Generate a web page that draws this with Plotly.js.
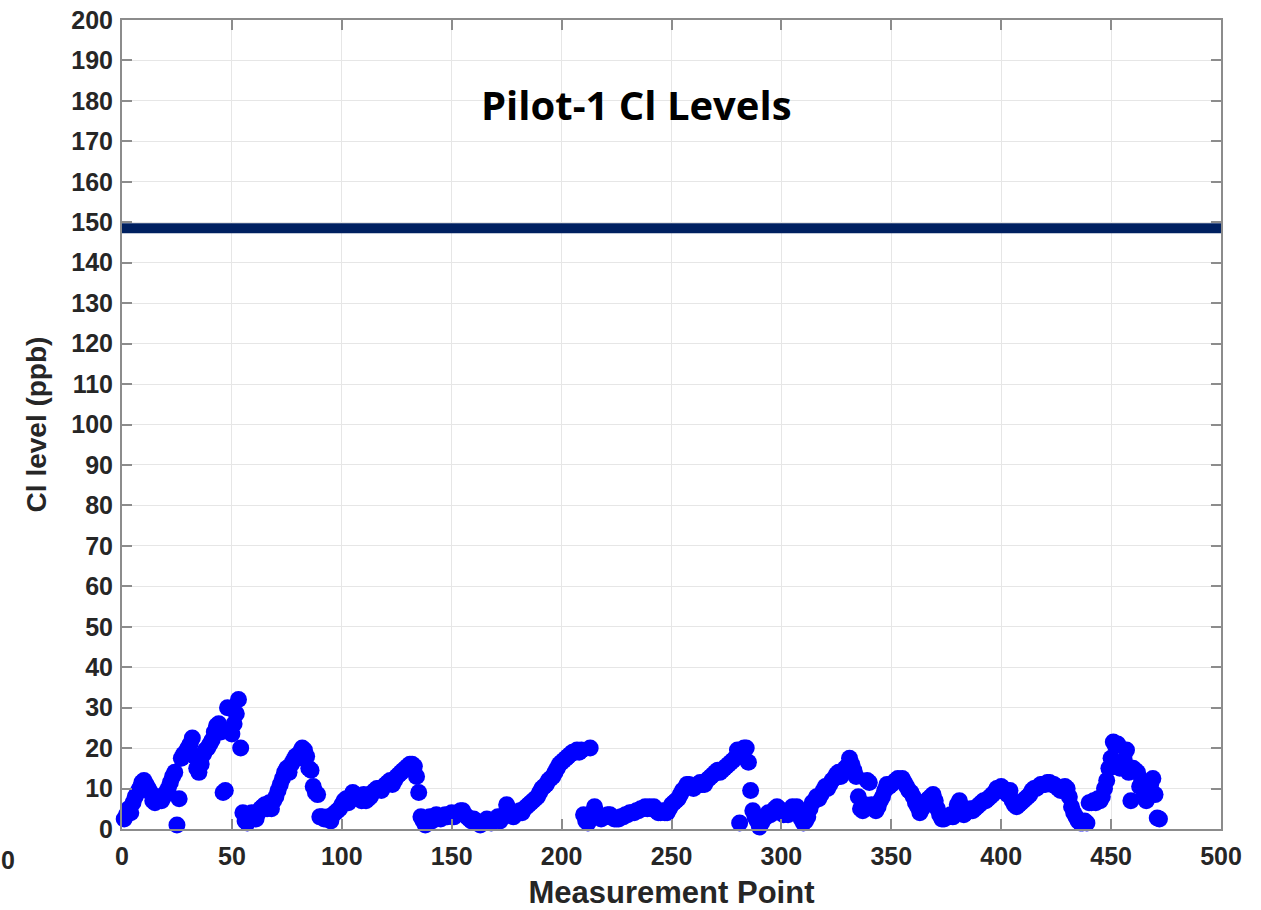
<!DOCTYPE html>
<html>
<head>
<meta charset="utf-8">
<script src="https://cdn.plot.ly/plotly-3.0.1.min.js"></script>
<style>html,body{margin:0;padding:0;background:#fff;}#chart{width:1261px;height:910px;}</style>
</head>
<body>
<div id="chart"></div>
<script>
// Cl level (ppb) for measurement points 1..472
const clLevel = [
2.5,3.5,5,4,6.5,8,9,10,11.5,12,11,10,9,7,6.5,7.5,8,7,8,9,10,11.5,13,14,1,7.5,17.5,18.5,19,20,21,22.5,18,15,14,16,18.5,19.5,20,21,22,24,25.5,26,24,9,9.5,30,24.5,23.5,26,28.5,32,20,
4,2,1.5,3,4,3,2.5,4,5,5.5,6,5,6.5,5,7,8,9.5,11,12.5,14,15,14,16,17,18,17.5,19,20,19.5,18,15,14.5,10.5,9,8.5,3,
3,2.5,2.5,3,2,3.5,4,4.5,5,6,7,7.5,6.5,8,9,8.5,8,7.5,7,8.5,7,7.5,8,9,9.5,10,10,9.5,10.5,11,11.5,12,11,12,13,13.5,14,14.5,15,15.5,16,16,15.5,13,9,
3,2,1,2.5,3,2,3,3.5,3,2.5,3,3.5,3,3.5,4,3,3.5,4,4.5,4.5,3.5,3,2.5,2,2.5,2,1.5,1,1.5,2,2.5,2,1.5,2,2.5,3,2,3,3.5,6,5,4,3,3.5,4,4.5,4,5,5.5,6,6.5,7,7.5,8,9,10,10.5,11,12,12.5,13,14,15,16,16.5,17,17.5,18,18.5,19,19,19.5,19,19.5,
3.5,2,1.5,20,3,5.5,4,3,2.5,3,3,3.5,3.5,3,2.5,2.5,2.5,3,3,3.5,3.5,4,4,4,4.5,4.5,5,5,5.5,5,5.5,5,5.5,4.5,4,4,4.5,4,4,5,6,6.5,7,7.5,8.5,9.5,10,11,11,10.5,10,10.5,11,11.5,11,11,12,12.5,13,13.5,14,14.5,14,14.5,15,15.5,16,16.5,17,17.5,19.5,1.5,19,20,20,16.5,9.5,
4.5,3,2,0.5,1.5,2.5,3,4,3.5,4,5,5.5,5,4,3.5,4,3.5,4.5,5.5,5,5.5,4,2.5,1.5,2,3,5,6.5,7,8,7.5,8.5,9.5,10.5,10,11,12,12.5,13.5,14,13,14,15,15.5,17.5,16,14.5,13,8,5,4.5,6,12,11.5,
6,5,4.5,5.5,7,8,9.5,11,10.5,11,11.5,12,12.5,12,12.5,11.5,10.5,9.5,9,8,6.5,5.5,4,5,6,7,7.5,8,8.5,7,5,3.5,2.5,2.5,3,3,3.5,3,4,6,7,4,3.5,4,4.5,5,4.5,5,5.5,6,6.5,7,7,7.5,8,8.5,9,10,10,10.5,10,9,8.5,9.5,7,6,5.5,6,6.5,7,7.5,8,8.5,9.5,10,10,10.5,11,11,11,11.5,11.5,11,11,10.5,10,9.5,10,10.5,10,8,5.5,4,3,2,1.5,1.5,2,1.5,6.5,
6.5,7,6.5,7.5,7,8,10,12,15,17.5,21.5,20.5,21,15,16.5,17,19.5,14,7,15,14.5,14,10.5,12,9,7,9,11,12.5,8.5,2.7,2.5
];
const measurementPoint = clLevel.map((v, i) => i + 1);

const limitX = [0, 500];
const limitY = [148.5, 148.5];

const xTicks = [0, 50, 100, 150, 200, 250, 300, 350, 400, 450, 500];
const yTicks = [0,10,20,30,40,50,60,70,80,90,100,110,120,130,140,150,160,170,180,190,200];

const tickFont = {family: '"Liberation Sans", Arial, sans-serif', size: 25, color: '#262626', weight: 'bold'};

const traces = [
  {
    x: limitX, y: limitY, mode: 'lines', type: 'scatter',
    line: {color: '#002060', width: 10}, cliponaxis: false, showlegend: false, hoverinfo: 'skip'
  },
  {
    x: measurementPoint, y: clLevel, mode: 'markers', type: 'scatter',
    marker: {color: '#0000ff', size: 17, line: {width: 0}}, cliponaxis: false, showlegend: false
  }
];

const axisCommon = {
  showgrid: true, gridcolor: '#e6e6e6', gridwidth: 1,
  showline: true, linecolor: '#8c8c8c', linewidth: 2, mirror: 'ticks',
  ticks: 'inside', ticklen: 10, tickwidth: 2, tickcolor: '#8c8c8c',
  zeroline: false, tickfont: tickFont
};

const layout = {
  width: 1261, height: 910,
  margin: {l: 122, r: 40, t: 20, b: 81},
  paper_bgcolor: '#ffffff', plot_bgcolor: '#ffffff',
  xaxis: Object.assign({}, axisCommon, {
    range: [0, 500], tickvals: xTicks, ticktext: xTicks.map(String),
    ticklabelstandoff: 4,
    title: {text: 'Measurement Point', font: {family: '"Liberation Sans", Arial, sans-serif', size: 31, color: '#262626', weight: 'bold'}, standoff: 13}
  }),
  yaxis: Object.assign({}, axisCommon, {
    range: [0, 200], tickvals: yTicks, ticktext: yTicks.map(String),
    ticklabelstandoff: 2,
    title: {text: 'Cl level (ppb)', font: {family: '"Liberation Sans", Arial, sans-serif', size: 28, color: '#262626', weight: 'bold'}, standoff: 16}
  }),
  annotations: [
    {
      text: 'Pilot-1 Cl Levels', xref: 'paper', yref: 'paper', x: 0.468, y: 0.895,
      xanchor: 'center', yanchor: 'middle', showarrow: false,
      font: {family: '"Open Sans", "Noto Sans", sans-serif', size: 40, color: '#000000', weight: 'bold'}
    },
    {
      text: '0', xref: 'paper', yref: 'paper', x: -0.1037, y: -0.0383,
      xanchor: 'center', yanchor: 'middle', showarrow: false,
      font: tickFont
    }
  ]
};

Plotly.newPlot('chart', traces, layout, {displayModeBar: false, staticPlot: true});
</script>
</body>
</html>
